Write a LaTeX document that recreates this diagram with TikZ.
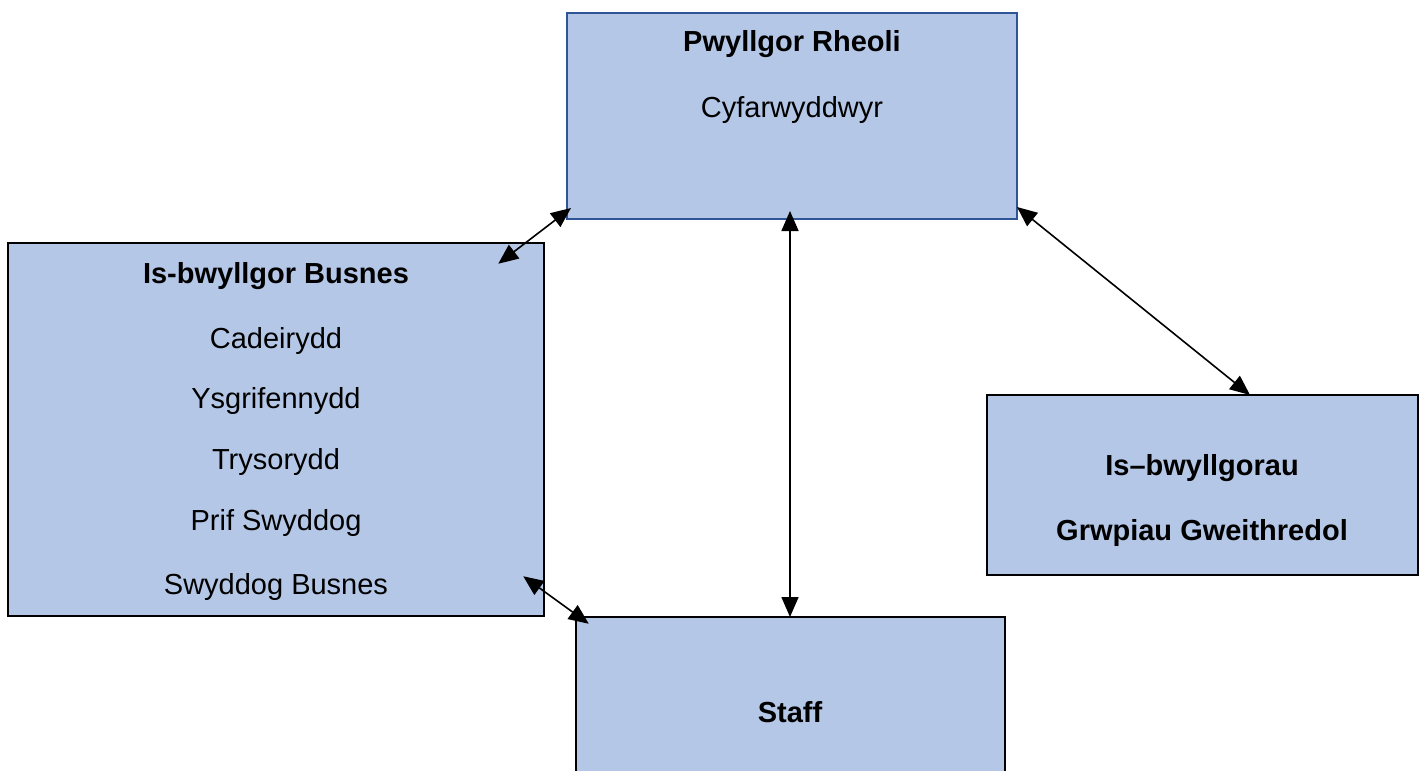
\documentclass[tikz,border=0pt]{standalone}
\usepackage{fontspec}
\setmainfont{Liberation Sans}
\usetikzlibrary{arrows.meta}
\definecolor{boxfill}{HTML}{B4C7E7}
\definecolor{boxblue}{HTML}{2F5597}
\tikzset{
  box/.style={draw=black, line width=2.5pt, fill=boxfill, rectangle, inner sep=0pt},
  lbl/.style={anchor=base, inner sep=0pt, font=\fontsize{29}{34}\selectfont},
  blbl/.style={lbl, font=\fontsize{29}{34}\selectfont\bfseries},
  link/.style={line width=1.6pt, {Triangle[length=20pt,width=17pt]}-{Triangle[length=20pt,width=17pt]}},
}
\begin{document}
\begin{tikzpicture}[x=1pt,y=-1pt]
\useasboundingbox (0,0) rectangle (1425,771);
\clip (0,0) rectangle (1425,771);
% boxes
\node[box, draw=boxblue, line width=2pt, minimum width=450pt, minimum height=206pt] (top) at (792,116) {};
\node[box, minimum width=536pt, minimum height=373pt] (left) at (276,429.5) {};
\node[box, minimum width=431pt, minimum height=180pt] (right) at (1202.5,485) {};
\node[box, minimum width=429pt, minimum height=300pt] (staff) at (790.5,767) {};
% texts
\node[blbl] (t1) at (792,51) {Pwyllgor Rheoli};
\node[lbl] (t2) at (792,117) {Cyfarwyddwyr};
\node[blbl] (l1) at (276,283) {Is-bwyllgor Busnes};
\node[lbl] (l2) at (276,348) {Cadeirydd};
\node[lbl] (l3) at (276,408) {Ysgrifennydd};
\node[lbl] (l4) at (276,469) {Trysorydd};
\node[lbl] (l5) at (276,530) {Prif Swyddog};
\node[lbl] (l6) at (276,594) {Swyddog Busnes};
\node[blbl] (r1) at (1202,475) {Is–bwyllgorau};
\node[blbl] (r2) at (1202,540) {Grwpiau Gweithredol};
\node[blbl] (s1) at (790,722) {Staff};
% connector end points
\coordinate (a1) at ([shift={(5,-12)}]top.south west);
\coordinate (a2) at ([shift={(-47,22)}]left.north east);
\coordinate (b1) at ([shift={(-2,-9)}]top.south);
\coordinate (b2) at (790,617);
\coordinate (c1) at ([shift={(-1,-13)}]top.south east);
\coordinate (c2) at (1250,395);
\coordinate (d1) at ([shift={(-22,-41)}]left.south east);
\coordinate (d2) at ([shift={(14,8)}]staff.north west);
% connectors
\draw[link] (a1) -- (a2);
\draw[link] (b1) -- (b2);
\draw[link] (c1) -- (c2);
\draw[link] (d1) -- (d2);
\end{tikzpicture}
\end{document}
